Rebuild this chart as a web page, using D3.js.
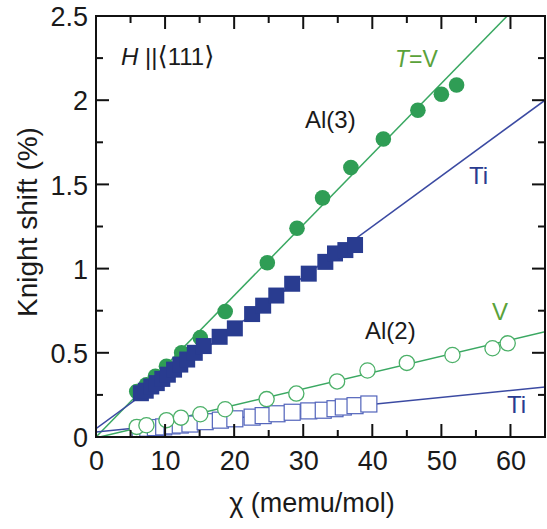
<!DOCTYPE html>
<html><head><meta charset="utf-8">
<script src="https://cdn.jsdelivr.net/npm/d3@7/dist/d3.min.js"></script>
<style>body{margin:0;background:#fff;} svg{display:block;font-family:"Liberation Sans",Arial,sans-serif;}</style>
</head><body>
<script>
// ---- data ----
const xTicks = [0,10,20,30,40,50,60];
const yTicks = [0,0.5,1,1.5,2,2.5];
const yTickLabels = ["0","0.5","1","1.5","2","2.5"];

// Al(3), T = V (filled circles)
const al3V_chi = [5.9,7.3,8.6,10.2,12.4,15.1,18.7,24.8,29.1,32.8,36.9,41.6,46.6,50.0,52.2];
const al3V_K   = [0.27,0.31,0.36,0.42,0.50,0.59,0.745,1.035,1.24,1.42,1.60,1.77,1.94,2.035,2.09];
// Al(3), T = Ti (filled squares)
const al3Ti_chi = [6.5,7.2,8.0,8.8,9.6,10.4,11.3,12.2,13.2,14.3,15.6,17.9,20.1,22.6,24.2,26.1,28.4,30.8,33.2,34.6,36.1,37.5];
const al3Ti_K   = [0.26,0.275,0.30,0.32,0.345,0.37,0.40,0.43,0.46,0.50,0.54,0.595,0.645,0.73,0.78,0.84,0.91,0.97,1.04,1.09,1.11,1.14];
// Al(2), T = V (open circles)
const al2V_chi = [5.9,7.3,10.2,12.3,15.1,18.7,24.7,29.0,34.9,39.3,45.0,51.6,57.4,59.6];
const al2V_K   = [0.06,0.07,0.10,0.115,0.135,0.165,0.225,0.258,0.33,0.395,0.44,0.487,0.527,0.556];
// Al(2), T = Ti (open squares)
const al2Ti_chi = [6.4,7.5,8.6,9.8,11.0,12.2,13.6,15.8,18.0,20.1,22.6,24.2,26.2,28.4,30.8,32.9,34.6,35.8,37.5,39.5];
const al2Ti_K   = [0.048,0.052,0.056,0.060,0.066,0.071,0.077,0.091,0.10,0.108,0.118,0.127,0.138,0.147,0.155,0.159,0.168,0.178,0.186,0.196];
// linear fits: [intercept, slope]
const fitAl3V  = [0.0, 0.0420];
const fitAl3Ti = [0.05, 0.0300];
const fitAl2V  = [-0.005, 0.0097];
const fitAl2Ti = [0.03, 0.0041];

// ---- layout ----
const W = 547, H = 529;
const m = {l:96, t:16, r:2, b:92};
const iw = W - m.l - m.r, ih = H - m.t - m.b;
const x = d3.scaleLinear().domain([0,65]).range([m.l, m.l+iw]);
const y = d3.scaleLinear().domain([0,2.5]).range([m.t+ih, m.t]);

const svg = d3.select("body").append("svg").attr("width",W).attr("height",H);

const green = "#2f9d55", greenLine = "#3aa862", olive = "#5aa23a";
const navy = "#293c90", blueLine = "#3b4aa2", openBlue = "#5264bb";

svg.append("clipPath").attr("id","clip").append("rect")
  .attr("x",m.l).attr("y",m.t).attr("width",iw).attr("height",ih);
const plot = svg.append("g").attr("clip-path","url(#clip)");

// fit lines
function fitLine(fit, color){
  const pts = [0,65].map(c => [x(c), y(fit[0]+fit[1]*c)]);
  plot.append("path").attr("d", d3.line()(pts)).attr("fill","none")
    .attr("stroke",color).attr("stroke-width",1.5);
}
fitLine(fitAl3V, greenLine);
fitLine(fitAl3Ti, blueLine);
fitLine(fitAl2V, greenLine);
fitLine(fitAl2Ti, blueLine);

const zip = (a,b) => a.map((v,i)=>[v,b[i]]);
const sq = 16;

// open squares
plot.selectAll(".osq").data(zip(al2Ti_chi,al2Ti_K)).join("rect")
  .attr("x",d=>x(d[0])-sq/2).attr("y",d=>y(d[1])-sq/2).attr("width",sq).attr("height",sq)
  .attr("fill","#fff").attr("stroke",openBlue).attr("stroke-width",1.2);
// open circles
plot.selectAll(".oc").data(zip(al2V_chi,al2V_K)).join("circle")
  .attr("cx",d=>x(d[0])).attr("cy",d=>y(d[1])).attr("r",7.6)
  .attr("fill","#fff").attr("stroke","#4cb068").attr("stroke-width",1.3);
// filled circles
plot.selectAll(".fc").data(zip(al3V_chi,al3V_K)).join("circle")
  .attr("cx",d=>x(d[0])).attr("cy",d=>y(d[1])).attr("r",7.8).attr("fill",green);
// filled squares
plot.selectAll(".fsq").data(zip(al3Ti_chi,al3Ti_K)).join("rect")
  .attr("x",d=>x(d[0])-sq/2).attr("y",d=>y(d[1])-sq/2).attr("width",sq).attr("height",sq)
  .attr("fill",navy);

// frame
svg.append("rect").attr("x",m.l).attr("y",m.t).attr("width",iw).attr("height",ih)
  .attr("fill","none").attr("stroke","#111").attr("stroke-width",2);

// ticks inward on all sides
const tickCol = "#111";
const xMinor = d3.range(0,66,5), yMinor = d3.range(0,2.51,0.25);
xMinor.forEach(v=>{
  const L = (v%10===0)?13:7;
  svg.append("line").attr("x1",x(v)).attr("x2",x(v)).attr("y1",y(0)).attr("y2",y(0)-L).attr("stroke",tickCol).attr("stroke-width",2);
  svg.append("line").attr("x1",x(v)).attr("x2",x(v)).attr("y1",y(2.5)).attr("y2",y(2.5)+L).attr("stroke",tickCol).attr("stroke-width",2);
});
yMinor.forEach(v=>{
  const L = (Math.round(v*4)%2===0)?13:7;
  svg.append("line").attr("y1",y(v)).attr("y2",y(v)).attr("x1",x(0)).attr("x2",x(0)+L).attr("stroke",tickCol).attr("stroke-width",2);
  svg.append("line").attr("y1",y(v)).attr("y2",y(v)).attr("x1",x(65)).attr("x2",x(65)-L).attr("stroke",tickCol).attr("stroke-width",2);
});

// tick labels via axes
const xAxis = d3.axisBottom(x).tickValues(xTicks).tickSize(0).tickPadding(0).tickFormat(d3.format("d"));
const gx = svg.append("g").attr("transform",`translate(0,${y(0)})`).call(xAxis);
gx.select(".domain").remove();
gx.selectAll("text").attr("font-size",27).attr("fill","#1a1a1a").attr("dy",null).attr("y",33)
  .attr("font-family","'Liberation Sans',Arial,sans-serif");

const yAxis = d3.axisLeft(y).tickValues(yTicks).tickSize(0).tickPadding(0).tickFormat((d,i)=>yTickLabels[i]);
const gy = svg.append("g").attr("transform",`translate(${m.l},0)`).call(yAxis);
gy.select(".domain").remove();
gy.selectAll("text").attr("font-size",27).attr("fill","#1a1a1a").attr("x",-8).attr("dy","0.36em")
  .attr("font-family","'Liberation Sans',Arial,sans-serif");

// axis titles
svg.append("text").attr("x",312).attr("y",512).attr("text-anchor","middle")
  .attr("font-size",27).attr("fill","#1a1a1a").text("χ (memu/mol)");
svg.append("text").attr("transform","translate(37,222) rotate(-90)").attr("text-anchor","middle")
  .attr("font-size",28).attr("fill","#1a1a1a").text("Knight shift (%)");

// annotations
const t1 = svg.append("text").attr("x",121).attr("y",65).attr("font-size",24).attr("fill","#1a1a1a");
t1.append("tspan").attr("font-style","italic").text("H");
t1.append("tspan").text(" ||");
t1.append("tspan").attr("font-family","'DejaVu Sans',sans-serif").attr("font-size",26).text("⟨");
t1.append("tspan").text("111");
t1.append("tspan").attr("font-family","'DejaVu Sans',sans-serif").attr("font-size",26).text("⟩");

const t2 = svg.append("text").attr("x",395).attr("y",67).attr("font-size",23).attr("fill",olive);
t2.append("tspan").attr("font-style","italic").text("T");
t2.append("tspan").text("=V");

svg.append("text").attr("x",305).attr("y",128).attr("font-size",24).attr("fill","#1a1a1a").text("Al(3)");
svg.append("text").attr("x",469).attr("y",184).attr("font-size",24).attr("fill",navy).text("Ti");
svg.append("text").attr("x",365).attr("y",339).attr("font-size",24).attr("fill","#1a1a1a").text("Al(2)");
svg.append("text").attr("x",492).attr("y",320).attr("font-size",24).attr("fill",olive).text("V");
svg.append("text").attr("x",507).attr("y",413).attr("font-size",24).attr("fill",navy).text("Ti");
</script>
</body></html>
